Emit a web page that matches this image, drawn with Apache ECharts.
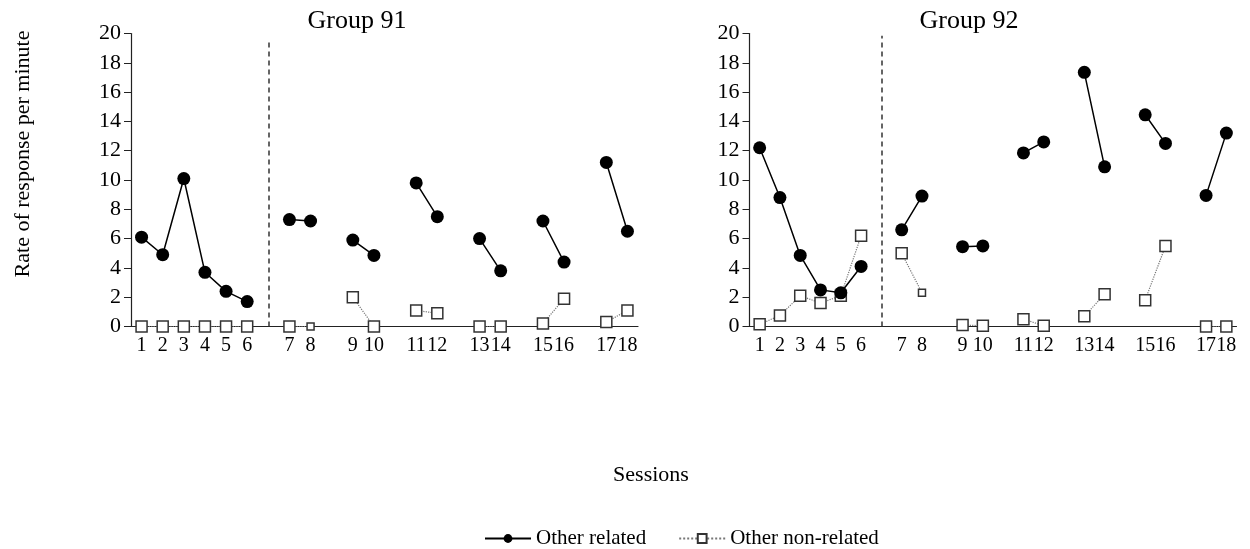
<!DOCTYPE html>
<html><head><meta charset="utf-8">
<script src="https://cdn.jsdelivr.net/npm/echarts@6/dist/echarts.min.js"></script>
<style>html,body{margin:0;padding:0;background:#fff}#c{width:1250px;height:549px}</style>
</head><body><div id="c"></div>
<script>
// ---- data ----
const sessions = ['1','2','3','4','5','6','7','8','9','10','11','12','13','14','15','16','17','18'];
const gapAfter = ['6','8','10','12','14','16'];      // phase breaks (empty category slots)
const yTicks = [0, 20, 2];                              // min, max, interval
const g91Related    = [6.1, 4.9, 10.1, 3.7, 2.4, 1.7, 7.3, 7.2, 5.9, 4.85, 9.8, 7.5, 6.0, 3.8, 7.2, 4.4, 11.2, 6.5];
const g91NonRelated = [0, 0, 0, 0, 0, 0, 0, 0, 2.0, 0, 1.1, 0.9, 0, 0, 0.2, 1.9, 0.3, 1.1];
const g92Related    = [12.2, 8.8, 4.85, 2.5, 2.3, 4.1, 6.6, 8.9, 5.45, 5.5, 11.85, 12.6, 17.35, 10.9, 14.45, 12.5, 8.95, 13.2];
const g92NonRelated = [0.15, 0.75, 2.1, 1.6, 2.1, 6.2, 5.0, 2.3, 0.1, 0.05, 0.5, 0.05, 0.7, 2.2, 1.8, 5.5, 0, 0];
const titles = ['Group 91', 'Group 92'];
const seriesNames = ['Other related', 'Other non-related'];
const dashTop = [19.4, 19.85];

// ---- build categories with gap slots ----
const categories = [];
let g = 0;
sessions.forEach(s => { categories.push(s); if (gapAfter.includes(s)) categories.push('gap' + (++g)); });
function align(vals) {
  const out = []; let i = 0;
  categories.forEach(c => { if (c.startsWith('gap')) out.push(null); else out.push(vals[i++]); });
  return out;
}

const FONT = 'Liberation Serif';
const grids = [
  { left: 131, top: 33.5, width: 507, height: 293 },
  { left: 749.5, top: 33.5, width: 487, height: 293 }
];
const xAxes = grids.map((_, i) => ({
  type: 'category', gridIndex: i, data: categories, boundaryGap: true,
  axisLine: { lineStyle: { color: '#222', width: 1.2 } },
  axisTick: { alignWithLabel: true, interval: 0, length: 6, lineStyle: { color: '#222' } },
  axisLabel: { interval: 0, fontFamily: FONT, fontSize: 20, color: '#000', margin: 9,
    formatter: v => v.startsWith('gap') ? '' : v },
  splitLine: { show: false }
}));
const yAxes = grids.map((_, i) => ({
  type: 'value', gridIndex: i, min: yTicks[0], max: yTicks[1], interval: yTicks[2],
  axisLine: { show: true, lineStyle: { color: '#222', width: 1.2 } },
  axisTick: { show: true, length: 7, lineStyle: { color: '#222' } },
  axisLabel: { fontFamily: FONT, fontSize: 22, color: '#000', margin: 10 },
  splitLine: { show: false }
}));

const groups = [[g91Related, g91NonRelated], [g92Related, g92NonRelated]];
const series = [];
groups.forEach((grp, i) => {
  series.push({
    name: seriesNames[1], type: 'line', xAxisIndex: i, yAxisIndex: i,
    data: align(grp[1]), connectNulls: false,
    symbol: 'rect', symbolSize: (v, p) => p.name === '8' ? 7 : 11,
    itemStyle: { color: '#fff', borderColor: '#333', borderWidth: 1.5 },
    lineStyle: { color: '#777', width: 1.2, type: 'dotted' },
    z: 2
  });
  series.push({
    name: seriesNames[0], type: 'line', xAxisIndex: i, yAxisIndex: i,
    data: align(grp[0]), connectNulls: false,
    symbol: 'circle', symbolSize: 13,
    itemStyle: { color: '#000' },
    lineStyle: { color: '#000', width: 1.5 },
    z: 3,
    markLine: {
      silent: true, symbol: ['none', 'none'], label: { show: false },
      lineStyle: { color: '#333', width: 1.5, type: [5, 4] },
      data: [[{ coord: ['gap1', 0] }, { coord: ['gap1', dashTop[i]] }]]
    }
  });
});

const chart = echarts.init(document.getElementById('c'));
chart.setOption({
  animation: false,
  backgroundColor: '#fff',
  title: [
    { text: titles[0], left: 352, top: 3, textAlign: 'center', textStyle: { fontFamily: FONT, fontWeight: 'normal', fontSize: 26, color: '#000' } },
    { text: titles[1], left: 964, top: 3, textAlign: 'center', textStyle: { fontFamily: FONT, fontWeight: 'normal', fontSize: 26, color: '#000' } }
  ],
  grid: grids,
  xAxis: xAxes,
  yAxis: yAxes,
  legend: {
    data: seriesNames, left: 479, top: 523, itemWidth: 46, itemHeight: 11, itemGap: 32,
    textStyle: { fontFamily: FONT, fontSize: 21, color: '#000' }
  },
  graphic: [
    { type: 'text', x: 23, y: 154, rotation: Math.PI / 2,
      style: { text: 'Rate of response per minute', fontFamily: FONT, fontSize: 22, fill: '#000', textAlign: 'center', textVerticalAlign: 'middle' } },
    { type: 'text', x: 651, y: 475,
      style: { text: 'Sessions', fontFamily: FONT, fontSize: 22, fill: '#000', textAlign: 'center', textVerticalAlign: 'middle' } }
  ],
  series: series
});
</script></body></html>
